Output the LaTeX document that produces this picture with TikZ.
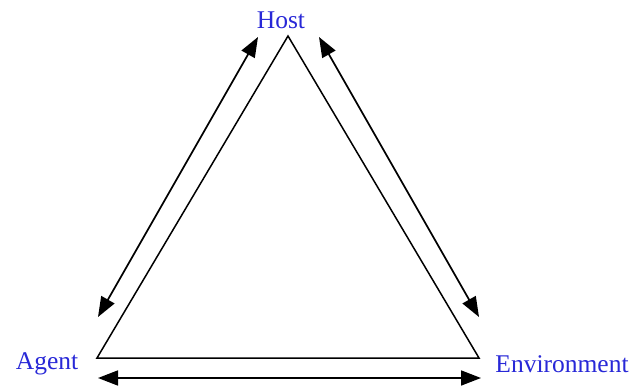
\documentclass[tikz,border=0pt]{standalone}
\usepackage{fontspec}
\setmainfont{Liberation Serif}
\usetikzlibrary{arrows.meta}
\definecolor{labelblue}{RGB}{40,40,215}
\begin{document}
\begin{tikzpicture}[x=1pt,y=-1pt,
  edge/.style={line width=1.5pt},
  twoway/.style={line width=1.7pt,{Triangle[length=20pt,width=15pt]}-{Triangle[length=20pt,width=15pt]}},
  lbl/.style={text=labelblue,font=\fontsize{25.5}{28}\selectfont,inner sep=0pt}]
\useasboundingbox (0,0) rectangle (637,387);
% triangle corners
\coordinate (top) at (288,36);
\coordinate (bl) at (97,358);
\coordinate (br) at (479,358);
\draw[edge,line join=miter] (top) -- (bl) -- (br) -- cycle;
% labels
\node[lbl] (host) at (281,20) {Host};
\node[lbl] (agent) at (47,364) {Agent};
\node[lbl] (env) at (562,364) {Environment};
% arrow end points
\coordinate (la) at (98,317);
\coordinate (lb) at (258,37);
\coordinate (ra) at (319,37);
\coordinate (rb) at (479,317);
\coordinate (ba) at (98,378);
\coordinate (bb) at (481,378);
\draw[twoway] (la) -- (lb);
\draw[twoway] (ra) -- (rb);
\draw[twoway] (ba) -- (bb);
\end{tikzpicture}
\end{document}
